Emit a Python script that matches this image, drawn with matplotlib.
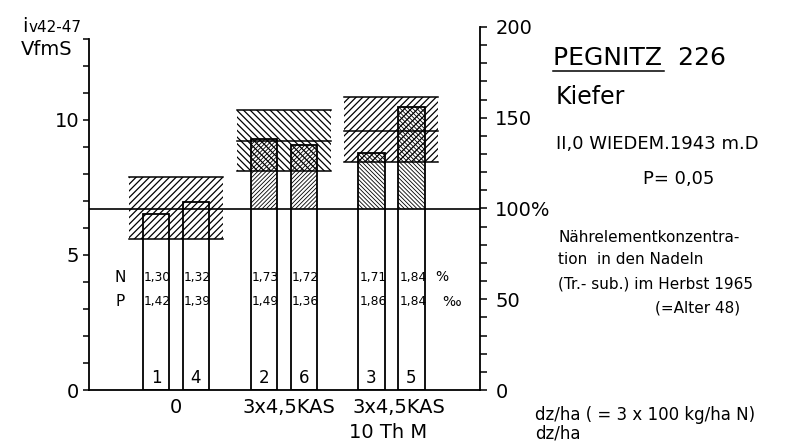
import matplotlib
matplotlib.use("Agg")
import matplotlib.pyplot as plt
from matplotlib.lines import Line2D

plt.rcParams["font.family"] = ["DejaVu Sans"]
plt.rcParams["hatch.linewidth"] = 0.9

# values (left scale: Vfm S, right scale: % of control)
plot_no = ["1", "4", "2", "6", "3", "5"]
vfm = [6.52, 6.95, 9.31, 9.06, 8.79, 10.48]
n_pct = ["1,30", "1,32", "1,73", "1,72", "1,71", "1,84"]
p_pml = ["1,42", "1,39", "1,49", "1,36", "1,86", "1,84"]
group_labels = ["0", "3x4,5KAS", "3x4,5KAS"]
band_lo = [5.60, 8.09, 8.46]
band_hi = [7.87, 10.35, 10.83]
band_mid = [None, 9.22, 9.59]
REF = 6.72  # = 100 %

# layout in bar-width units
GROUP_X = [3.22, 7.22, 11.2]
OFFSET = 0.74
BAR_W = 0.98
BAND_W = 3.48
band_hatch = ["/" * 5, "\\" * 5, "/" * 5]
bar_hatch = [None, "/" * 8, "\\" * 8]

W, H = 792, 442


def fx(x):
    return x / W


def fy(y):
    return 1 - y / H


fig = plt.figure(figsize=(W / 100, H / 100), dpi=100)
ax = fig.add_axes([fx(89), fy(390), (480 - 89) / W, (390 - 27) / H])
ax.set_xlim(0, 14.48)
ax.set_ylim(0, 2 * REF)

bar_x = []
for g in GROUP_X:
    bar_x += [g - OFFSET, g + OFFSET]

# confidence bands
for g, lo, hi, mid, hh in zip(GROUP_X, band_lo, band_hi, band_mid, band_hatch):
    ax.bar(g, hi - lo, bottom=lo, width=BAND_W, fill=False, hatch=hh,
           edgecolor="black", linewidth=0, zorder=2)
    for yv in (lo, hi, mid):
        if yv is not None:
            ax.plot([g - BAND_W / 2, g + BAND_W / 2], [yv, yv], c="black",
                    lw=1.1, zorder=3)

# bars
for i, (x, v) in enumerate(zip(bar_x, vfm)):
    hh = bar_hatch[i // 2]
    if hh:
        seg = ax.bar(x, v - REF, bottom=REF, width=BAR_W, fill=False,
                     hatch=hh, edgecolor="black", linewidth=0, zorder=2)
        for p in seg:
            if hasattr(p, "set_hatch_linewidth"):
                p.set_hatch_linewidth(0.6)
    ax.bar(x, v, width=BAR_W, fill=False, edgecolor="black", linewidth=1.3,
           zorder=4)
    ax.text(x, 0.44, plot_no[i], ha="center", va="center", fontsize=12)
    ax.text(x - BAR_W / 2 + 0.04, 4.18, n_pct[i], ha="left", va="center",
            fontsize=8.8)
    ax.text(x - BAR_W / 2 + 0.04, 3.26, p_pml[i], ha="left", va="center",
            fontsize=8.8)

ax.axhline(REF, c="black", lw=1.2, zorder=3)
ax.text(1.15, 4.18, "N", ha="center", va="center", fontsize=11)
ax.text(1.15, 3.26, "P", ha="center", va="center", fontsize=11)
ax.text(12.81, 4.18, "%", ha="left", va="center", fontsize=10)
ax.text(13.1, 3.26, "‰", ha="left", va="center", fontsize=10)

# group labels under the axis
ax.text(GROUP_X[0], -0.66, group_labels[0], ha="center", va="center",
        fontsize=14)
ax.text(GROUP_X[1] + 0.2, -0.66, group_labels[1], ha="center", va="center",
        fontsize=14)
ax.text(GROUP_X[2] + 0.28, -0.66, group_labels[2], ha="center", va="center",
        fontsize=14)
ax.text(GROUP_X[2] - 0.13, -1.59, "10 Th M", ha="center", va="center",
        fontsize=14)

# axes styling
for s in ("top", "right"):
    ax.spines[s].set_visible(False)
for s in ("left", "bottom"):
    ax.spines[s].set_linewidth(1.3)
ax.spines["left"].set_bounds(0, 13)
ax.set_xticks([])
ax.set_yticks([0, 5, 10])
ax.set_yticks(range(0, 14), minor=True)
ax.tick_params(axis="y", which="both", length=4, width=1.1, pad=3,
               labelsize=14)

ax2 = ax.twinx()
ax2.set_ylim(0, 200)
for s in ("top", "left", "bottom"):
    ax2.spines[s].set_visible(False)
ax2.spines["right"].set_linewidth(1.3)
ax2.set_yticks([0, 50, 100, 150, 200])
ax2.set_yticklabels(["0", "50", "100%", "150", "200"])
ax2.set_yticks(range(0, 201, 10), minor=True)
ax2.tick_params(axis="y", which="both", length=5, width=1.1, pad=6,
                labelsize=14)

# y-axis title
fig.text(fx(22), fy(32), "i", fontsize=14, ha="left", va="baseline")
fig.text(fx(29), fy(32), "v42-47", fontsize=11, ha="left", va="baseline")
fig.text(fx(21), fy(55), "VfmS", fontsize=14, ha="left", va="baseline")

# annotation block on the right
fig.text(fx(553), fy(58), "PEGNITZ  226", fontsize=18, ha="left",
         va="center")
fig.add_artist(Line2D([fx(553), fx(664)], [fy(71), fy(71)], c="black",
                      lw=1.1))
fig.text(fx(556), fy(97), "Kiefer", fontsize=17, ha="left", va="center")
fig.text(fx(556), fy(144), "II,0 WIEDEM.1943 m.D", fontsize=13, ha="left",
         va="center")
fig.text(fx(643), fy(179), "P= 0,05", fontsize=13, ha="left", va="center")
fig.text(fx(558), fy(238), "Nährelementkonzentra-", fontsize=11, ha="left",
         va="center")
fig.text(fx(558), fy(260), "tion  in den Nadeln", fontsize=11, ha="left",
         va="center")
fig.text(fx(558), fy(284), "(Tr.- sub.) im Herbst 1965", fontsize=11,
         ha="left", va="center")
fig.text(fx(698), fy(308), "(=Alter 48)", fontsize=11, ha="center",
         va="center")
fig.text(fx(535), fy(415), "dz/ha ( = 3 x 100 kg/ha N)", fontsize=12,
         ha="left", va="center")
fig.text(fx(535), fy(434), "dz/ha", fontsize=12, ha="left", va="center")

fig.savefig("out.png", dpi=100)
